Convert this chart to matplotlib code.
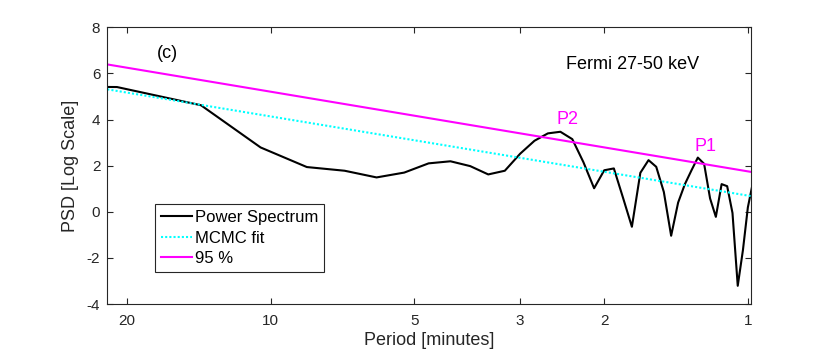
import matplotlib
matplotlib.use("Agg")
import matplotlib.pyplot as plt

plt.rcParams["font.family"] = ["Liberation Sans", "DejaVu Sans"]
plt.rcParams["font.size"] = 11
plt.rcParams["axes.unicode_minus"] = False

# periods of the frequency bins (minutes) and the log PSD
period = [42.0, 21.0, 14.0, 10.5, 8.4, 7.0, 6.0, 5.25, 4.667, 4.2,
          3.818, 3.5, 3.231, 3.0, 2.8, 2.625, 2.471, 2.333, 2.211, 2.1,
          2.0, 1.909, 1.826, 1.75, 1.68, 1.615, 1.556, 1.5, 1.448, 1.4,
          1.355, 1.3125, 1.273, 1.235, 1.2, 1.167, 1.135, 1.105, 1.077, 1.05,
          1.024, 1.0, 0.977]
psd = [5.45, 5.41, 4.62, 2.79, 1.94, 1.78, 1.49, 1.70, 2.10, 2.19,
       1.98, 1.62, 1.78, 2.52, 3.08, 3.40, 3.47, 3.15, 2.15, 1.02,
       1.80, 1.88, 0.60, -0.65, 1.69, 2.24, 1.95, 0.86, -1.04, 0.40,
       1.20, 1.80, 2.35, 2.08, 0.58, -0.22, 1.20, 1.11, -0.05, -3.21,
       -1.66, 0.19, 1.22]

# straight (power law) fit and 95% level, end points at the axis limits
line_period = [22.0, 0.985]
fit_psd = [5.31, 0.68]
conf_psd = [6.39, 1.73]

peak_labels = ["P2", "P1"]
peak_period = [2.384, 1.226]
peak_psd = [4.01, 2.81]

xticks = [20, 10, 5, 3, 2, 1]
yticks = [-4, -2, 0, 2, 4, 6, 8]

ink = "#262626"

fig = plt.figure(figsize=(8.3, 3.56), dpi=100)
ax = fig.add_axes([0.1293, 0.146, 0.7755, 0.7773])

ax.plot(period, psd, color="black", lw=1.5, label="Power Spectrum")
ax.plot(line_period, fit_psd, color="cyan", lw=1.5, ls=(0, (1, 1)), label="MCMC fit")
ax.plot(line_period, conf_psd, color="magenta", lw=1.5, label="95 %")

for lab, p, v in zip(peak_labels, peak_period, peak_psd):
    ax.text(p, v, lab, color="magenta", ha="center", va="center", fontsize=13)

ax.set_xscale("log")
ax.set_xlim(line_period[0], line_period[1])
ax.set_ylim(-4, 8)
ax.set_xticks(xticks)
ax.set_xticklabels([str(t) for t in xticks])
ax.xaxis.set_minor_locator(matplotlib.ticker.NullLocator())
ax.set_yticks(yticks)

ax.tick_params(direction="in", top=True, right=True, length=4, width=0.8,
               colors=ink, labelsize=11)
ax.tick_params(axis="x", pad=7)
ax.tick_params(axis="y", pad=5)
for s in ax.spines.values():
    s.set_color(ink)
    s.set_linewidth(0.8)

ax.set_xlabel("Period [minutes]", fontsize=13, color=ink, labelpad=3)
ax.set_ylabel("PSD [Log Scale]", fontsize=13, color=ink, labelpad=6)

ax.text(0.094, 0.905, "(c)", transform=ax.transAxes, fontsize=13,
        ha="center", va="center")
ax.text(0.713, 0.864, "Fermi 27-50 keV", transform=ax.transAxes, fontsize=13,
        ha="left", va="center")

leg = ax.legend(loc="upper left", bbox_to_anchor=(0.074, 0.36), borderaxespad=0,
                fancybox=False, framealpha=1, edgecolor=ink, fontsize=12,
                handlelength=1.85, handletextpad=0.2, labelspacing=0.32,
                borderpad=0.35)
leg.get_frame().set_linewidth(0.8)

fig.savefig("out.png", dpi=100)
